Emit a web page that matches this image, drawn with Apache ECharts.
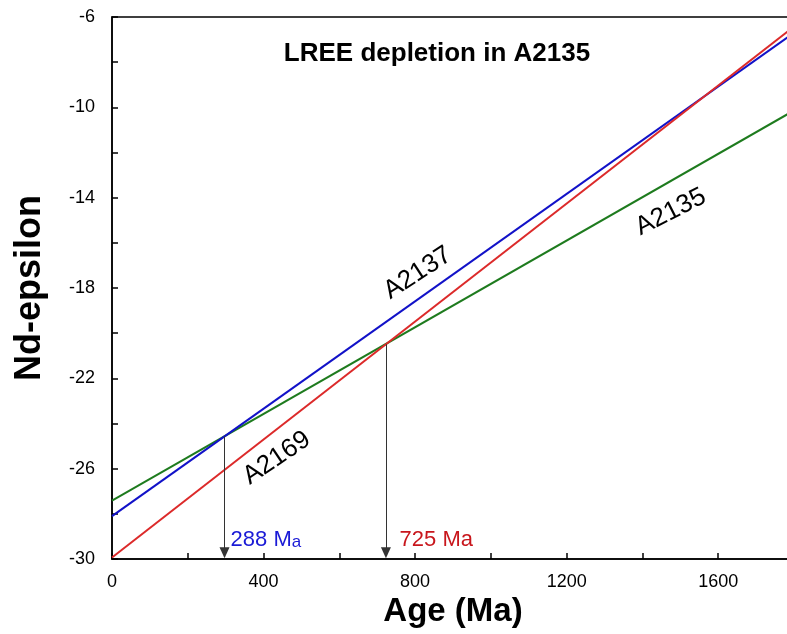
<!DOCTYPE html>
<html><head><meta charset="utf-8">
<script src="https://cdn.jsdelivr.net/npm/echarts@6/dist/echarts.min.js"></script>
<style>html,body{margin:0;padding:0;background:#fff}#c{width:787px;height:634px}</style>
</head><body><div id="c"></div>
<script>
// ---- data ----
const ages = [0, 1800];
const a2169 = [-29.93, -6.42];
const a2137 = [-28.10, -6.70];
const a2135 = [-27.42, -10.14];
const arrowAges = [297, 723];
const arrowTops = [-24.57, -20.49];
const arrowBottom = -29.72;
const arrowLabelAges = [313, 759];
const arrowLabelY = -29.15;
const arrowTexts = ['288 M{s|a}', '725 Ma'];
const lineLabelNames = ['A2137', 'A2169', 'A2135'];
const lineLabelAges = [807, 435, 1475];
const lineLabelVals = [-17.34, -25.53, -14.64];
const xTicks = [0, 400, 800, 1200, 1600];
const yTicks = [-30, -26, -22, -18, -14, -10, -6];

const FONT = '"Liberation Sans", Arial, sans-serif';
const pairs = (ys) => ages.map((a, i) => [a, ys[i]]);
const rot = [33, 34, 27];

const chart = echarts.init(document.getElementById('c'), null, {renderer: 'canvas'});
chart.setOption({
  animation: false,
  backgroundColor: '#fff',
  title: {
    text: 'LREE depletion in A2135',
    left: 437, top: 41, textAlign: 'center', padding: 0,
    textStyle: {fontFamily: FONT, fontWeight: 'bold', fontSize: 26, color: '#000'}
  },
  grid: {left: 112, right: -7, top: 17, bottom: 75, show: true, borderColor: '#000', borderWidth: 1.5,
    outerBoundsMode: 'none', containLabel: false},
  xAxis: {
    type: 'value', min: 0, max: 1800, interval: 200,
    name: 'Age (Ma)', nameLocation: 'middle', nameGap: 35,
    nameTextStyle: {fontFamily: FONT, fontWeight: 'bold', fontSize: 33, color: '#000'},
    axisLine: {show: true, lineStyle: {color: '#000', width: 1.5}},
    axisTick: {show: true, inside: true, length: 6, lineStyle: {color: '#000', width: 1.5}},
    splitLine: {show: false},
    axisLabel: {margin: 14, fontFamily: FONT, fontSize: 18, color: '#000',
      formatter: v => xTicks.includes(v) ? String(v) : ''}
  },
  yAxis: {
    type: 'value', min: -30, max: -6, interval: 2,
    name: 'Nd-epsilon', nameLocation: 'middle', nameGap: 64, nameRotate: 90,
    nameTextStyle: {fontFamily: FONT, fontWeight: 'bold', fontSize: 36, color: '#000'},
    axisLine: {show: true, lineStyle: {color: '#000', width: 1.5}},
    axisTick: {show: true, inside: true, length: 6, lineStyle: {color: '#000', width: 1.5}},
    splitLine: {show: false},
    axisLabel: {margin: 17, fontFamily: FONT, fontSize: 18, color: '#000',
      formatter: v => yTicks.includes(v) ? String(v) : ''}
  },
  series: [
    {type: 'line', name: 'A2135', data: pairs(a2135), symbol: 'none', silent: true,
      lineStyle: {color: '#1e7b1e', width: 2},
      markLine: {
        silent: true, symbol: ['none', 'triangle'], symbolSize: [10, 11],
        label: {show: false},
        lineStyle: {color: '#333', width: 1, type: 'solid'},
        data: arrowAges.map((a, i) => [{coord: [a, arrowTops[i]]}, {coord: [a, arrowBottom]}])
      }},
    {type: 'line', name: 'A2137', data: pairs(a2137), symbol: 'none', silent: true,
      lineStyle: {color: '#1212c8', width: 2}},
    {type: 'line', name: 'A2169', data: pairs(a2169), symbol: 'none', silent: true,
      lineStyle: {color: '#dc2a2a', width: 2}},
    {type: 'scatter', silent: true, symbolSize: 0, itemStyle: {opacity: 1},
      data: lineLabelNames.map((n, i) => ({value: [lineLabelAges[i], lineLabelVals[i]], name: n,
        label: {rotate: rot[i]}})),
      label: {show: true, position: 'inside', align: 'center', verticalAlign: 'middle',
        fontFamily: FONT, fontSize: 26, color: '#000', opacity: 1,
        formatter: p => p.name}
    },
    {type: 'scatter', silent: true, symbolSize: 0, itemStyle: {opacity: 1},
      data: arrowTexts.map((t, i) => ({value: [arrowLabelAges[i], arrowLabelY], name: t,
        label: {color: i === 0 ? '#1a1ad6' : '#c8161c'}})),
      label: {show: true, position: 'right', distance: 0, align: 'left', verticalAlign: 'middle',
        fontFamily: FONT, fontSize: 22, opacity: 1,
        formatter: p => p.name,
        rich: {s: {fontFamily: FONT, fontSize: 17, color: '#1a1ad6', verticalAlign: 'bottom', padding: [6, 0, 0, 0]}}}
    }
  ]
});
</script></body></html>
